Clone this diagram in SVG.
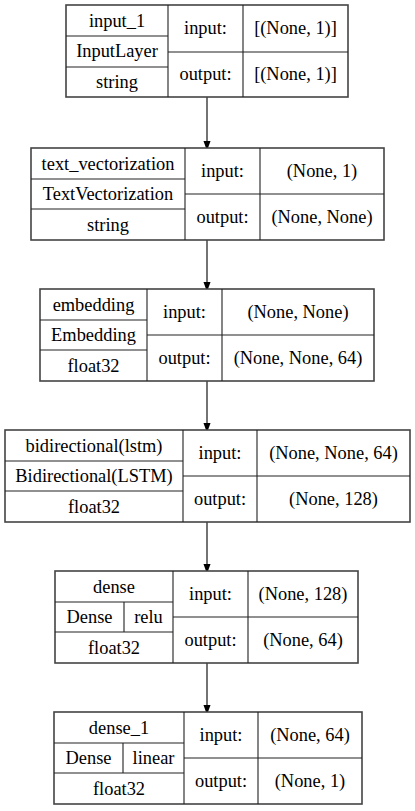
<svg xmlns="http://www.w3.org/2000/svg" width="415" height="811" viewBox="0 0 415 811">
<style>
.o{fill:#fff;stroke:#444;stroke-width:1.6}
.l{stroke:#222;stroke-width:1.1;fill:none}
text{font-family:"Liberation Serif","Times New Roman",serif;font-size:18.4px;fill:#000;text-anchor:middle}
.e{stroke:#000;stroke-width:1.1;fill:none}
</style>
<defs>
<marker id="ah" markerWidth="10" markerHeight="14" refX="10" refY="5" orient="auto" markerUnits="userSpaceOnUse" viewBox="0 0 14 10">
<path d="M0,0 L14,5 L0,10 Z" fill="#000"/>
</marker>
</defs>
<rect width="415" height="811" fill="#fff"/>
<g id="connectors">
<line class="e" x1="207" y1="97" x2="207" y2="148" marker-end="url(#ah)"/>
<line class="e" x1="207" y1="240" x2="207" y2="289" marker-end="url(#ah)"/>
<line class="e" x1="207" y1="381" x2="207" y2="430" marker-end="url(#ah)"/>
<line class="e" x1="207" y1="522" x2="207" y2="571" marker-end="url(#ah)"/>
<line class="e" x1="207" y1="663" x2="207" y2="712" marker-end="url(#ah)"/>
</g>
<g id="input_1">
<rect class="o" x="66" y="5" width="282" height="92"/>
<path class="l" d="M168,5V97M243,5V97M66,36H168M66,67H168M168,52H348"/>
<text x="117" y="27">input_1</text>
<text x="117" y="57">InputLayer</text>
<text x="117" y="88">string</text>
<text x="205.5" y="34">input:</text>
<text x="205.5" y="80">output:</text>
<text x="295.5" y="34">[(None, 1)]</text>
<text x="295.5" y="80">[(None, 1)]</text>
</g>
<g id="text_vectorization">
<rect class="o" x="31" y="148" width="353" height="92"/>
<path class="l" d="M185,148V240M260,148V240M31,179H185M31,209H185M185,194H384"/>
<text x="108" y="170">text_vectorization</text>
<text x="108" y="200">TextVectorization</text>
<text x="108" y="231">string</text>
<text x="222.5" y="177">input:</text>
<text x="222.5" y="223">output:</text>
<text x="322" y="177">(None, 1)</text>
<text x="322" y="223">(None, None)</text>
</g>
<g id="embedding">
<rect class="o" x="40" y="289" width="334" height="92"/>
<path class="l" d="M147,289V381M222,289V381M40,320H147M40,350H147M147,335H374"/>
<text x="93.5" y="311">embedding</text>
<text x="93.5" y="341">Embedding</text>
<text x="93.5" y="372">float32</text>
<text x="184.5" y="318">input:</text>
<text x="184.5" y="364">output:</text>
<text x="298" y="318">(None, None)</text>
<text x="298" y="364">(None, None, 64)</text>
</g>
<g id="bidirectional">
<rect class="o" x="5" y="430" width="405" height="92"/>
<path class="l" d="M183,430V522M257,430V522M5,461H183M5,491H183M183,476H410"/>
<text x="94" y="452">bidirectional(lstm)</text>
<text x="94" y="482">Bidirectional(LSTM)</text>
<text x="94" y="513">float32</text>
<text x="220" y="459">input:</text>
<text x="220" y="505">output:</text>
<text x="333.5" y="459">(None, None, 64)</text>
<text x="333.5" y="505">(None, 128)</text>
</g>
<g id="dense">
<rect class="o" x="55" y="571" width="303" height="92"/>
<path class="l" d="M173,571V663M248,571V663M55,602H173M55,632H173M124,602V632M173,617H358"/>
<text x="114" y="593">dense</text>
<text x="89.5" y="623">Dense</text>
<text x="148.5" y="623">relu</text>
<text x="114" y="654">float32</text>
<text x="210.5" y="600">input:</text>
<text x="210.5" y="646">output:</text>
<text x="303" y="600">(None, 128)</text>
<text x="303" y="646">(None, 64)</text>
</g>
<g id="dense_1">
<rect class="o" x="54" y="712" width="308" height="92"/>
<path class="l" d="M184,712V804M258,712V804M54,743H184M54,773H184M123,743V773M184,758H362"/>
<text x="119" y="734">dense_1</text>
<text x="88.5" y="764">Dense</text>
<text x="153.5" y="764">linear</text>
<text x="119" y="795">float32</text>
<text x="221" y="741">input:</text>
<text x="221" y="787">output:</text>
<text x="310" y="741">(None, 64)</text>
<text x="310" y="787">(None, 1)</text>
</g>
</svg>
